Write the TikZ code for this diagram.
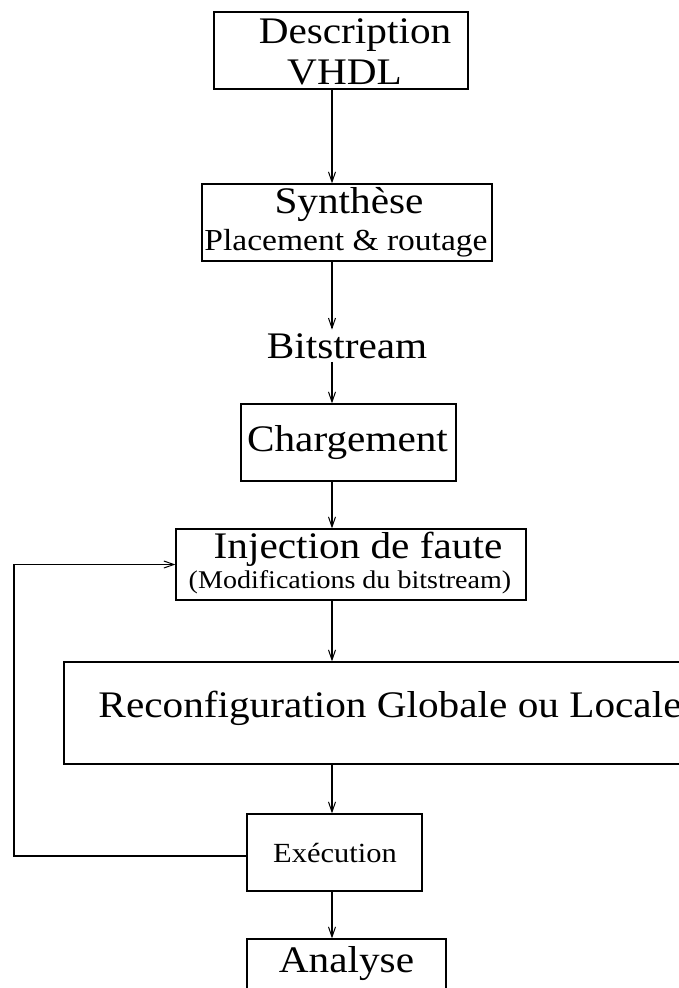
\documentclass[tikz,border=0pt]{standalone}
\usepackage{fontspec}
\setmainfont[FakeStretch=1.1]{Liberation Serif}
\usetikzlibrary{arrows.meta}

\begin{document}
\begin{tikzpicture}[x=1pt, y=-1pt,
  line width=1.2pt,
  box/.style={draw, rectangle, inner sep=0pt},
  big/.style={font=\fontsize{37.5}{41}\selectfont, anchor=base, inner sep=0pt},
  mid/.style={font=\fontsize{30.5}{34}\selectfont, anchor=base, inner sep=0pt},
  small/.style={font=\fontsize{25.5}{29}\selectfont, anchor=base, inner sep=0pt},
  exe/.style={font=\fontsize{27.7}{31}\selectfont, anchor=base, inner sep=0pt},
  arr/.style={-{Straight Barb[length=10pt,width=7pt,line width=1pt]}}]
\useasboundingbox (0,0) rectangle (679,988);
\clip (0,0) rectangle (679,988);

% vertical axis of the flow
\coordinate (ax) at (332,0);

% boxes
\node[box, minimum width=254pt, minimum height=77pt] (desc)  at (341,50.5) {};
\node[box, minimum width=290pt, minimum height=77pt] (synth) at (347,222.5) {};
\node[box, minimum width=215pt, minimum height=77pt] (charg) at (348.5,442.5) {};
\node[box, minimum width=350pt, minimum height=71pt] (inj)   at (351,564.5) {};
\node[box, minimum width=656pt, minimum height=102pt] (reco) at (392,713) {};
\node[box, minimum width=175pt, minimum height=77pt] (exec)  at (334.5,852.5) {};
\node[box, minimum width=199pt, minimum height=77pt] (ana)   at (346.5,977.5) {};

% texts
\node[big] (tdesc) at (355,43) {Description};
\node[big] (tvhdl) at (344.5,84) {VHDL};
\node[big] (tsynth) at (349,213) {Synthèse};
\node[mid] (tplace) at (346,250) {Placement \& routage};
\node[big, inner sep=3pt] (bits) at (347,358) {Bitstream};
\node[big] (tcharg) at (347.5,451) {Chargement};
\node[big] (tinj) at (358,558) {Injection de faute};
\node[small] (tmod) at (350,588) {(Modifications du bitstream)};
\node[big] (treco) at (390,717) {Reconfiguration Globale ou Locale};
\node[exe] (texec) at (335,862) {Exécution};
\node[big] (tana) at (346.5,972) {Analyse};

% connectors
\draw[arr] (desc.south -| ax) -- (synth.north -| ax);
\draw[arr] (synth.south -| ax) -- (bits.north -| ax);
\draw[arr] (bits.south -| ax) -- (charg.north -| ax);
\draw[arr] (charg.south -| ax) -- (inj.north -| ax);
\draw[arr] (inj.south -| ax) -- (reco.north -| ax);
\draw[arr] (reco.south -| ax) -- (exec.north -| ax);
\draw[arr] (exec.south -| ax) -- (ana.north -| ax);

% feedback loop from execution back to fault injection
\coordinate (fb) at ([yshift=-3.5pt]exec.west);
\coordinate (fbcorner) at (14,0);
\draw[arr] (fb) -| (fbcorner |- inj.west) -- (inj.west);
\end{tikzpicture}
\end{document}
